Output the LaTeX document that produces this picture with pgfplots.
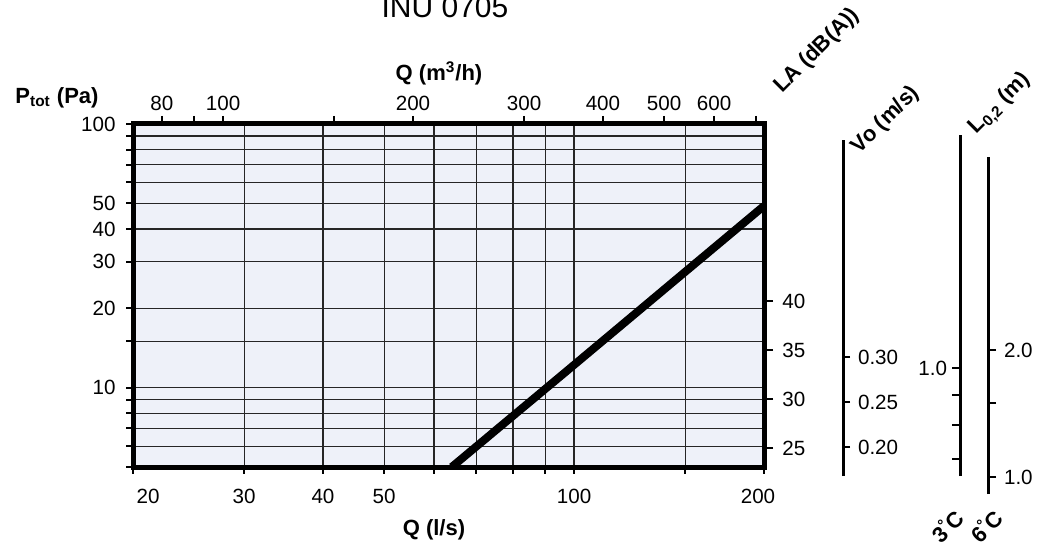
\documentclass[border=0pt]{standalone}
\usepackage{pgfplots}
\pgfplotsset{compat=1.18}
\usepackage{fontspec}
\setmainfont{Liberation Sans}
\definecolor{bgc}{RGB}{238,241,249}
\newcommand{\fs}{\fontsize{10.3bp}{12bp}\selectfont}
\newcommand{\fb}{\fontsize{11bp}{13bp}\selectfont\bfseries}
\begin{document}
\begin{tikzpicture}[font=\fs]
\pgfplotsset{
  common/.style={scale only axis, width=315.5bp, height=171.5bp,
    at={(66.5bp,-233.5bp)}, anchor=south west,
    tick align=outside, major tick length=3.5bp,
    every tick/.style={black, line width=1bp},
    ticklabel style={font=\fs}},
  scaleax/.style={scale only axis, width=10bp, hide x axis,
    axis line style={line width=1.5bp, -},
    tick align=outside, major tick length=4bp,
    every tick/.style={black, line width=1bp},
    ticklabel style={font=\fs}},
}
% main chart
\begin{axis}[common,
  xmode=log, ymode=log, xmin=20, xmax=200, ymin=5, ymax=100,
  axis background/.style={fill=bgc},
  axis line style={line width=2.5bp},
  xtick={20,30,40,50,60,70,80,90,100,150,200},
  xticklabels={,30,40,50,,,,,100,,},
  ytick={5,6,7,8,9,10,15,20,30,40,50,60,70,80,90,100},
  yticklabels={,,,,,10,,20,30,40,50,,,,,100},
  xtick pos=bottom, ytick pos=left,
  grid=major,
  major grid style={black!85, line width=0.6bp},
  xticklabel shift=4bp, yticklabel shift=1.7bp,
  clip mode=individual,
]
\addplot[line width=4bp, black] coordinates {(64,5.0) (100,12.2) (150,27.5) (200,48.9)};
\node[font=\fs] at (axis cs:20,5) [xshift=7.5bp, yshift=-14.5bp] {20};
\node[font=\fs] at (axis cs:200,5) [xshift=-3bp, yshift=-14.5bp] {200};
\end{axis}
% top axis m3/h
\begin{axis}[common,
  xmode=log, ymode=log, xmin=72, xmax=720, ymin=5, ymax=100,
  axis x line*=top, axis y line=none, axis line style={draw=none},
  xtick={80,90,100,150,200,300,400,500,600,700},
  xticklabels={80,,100,,200,300,400,500,600,},
  major tick length=4bp, xticklabel shift=-1bp,
]
\addplot[draw=none] coordinates {(100,10)};
\end{axis}
% LA axis
\begin{axis}[common,
  xmin=0, xmax=1, ymin=23.06, ymax=58.06,
  axis y line*=right, hide x axis, axis line style={draw=none},
  ytick={25,30,35,40}, yticklabels={25,30,35,40},
  major tick length=4.5bp, yticklabel shift=1.2bp,
]
\addplot[draw=none] coordinates {(0.5,30)};
\end{axis}
% Vo scale
\begin{axis}[scaleax, height=168bp, at={(421.5bp,-238bp)}, anchor=south east,
  xmin=0, xmax=1, ymin=0.1678, ymax=0.541,
  axis y line*=right,
  ytick={0.20,0.25,0.30}, yticklabels={0.20,0.25,0.30},
  major tick length=3.5bp, yticklabel shift=0.5bp,
]
\addplot[draw=none] coordinates {(0.5,0.25)};
\end{axis}
% 3 C scale
\begin{axis}[scaleax, height=170.5bp, at={(480bp,-238bp)}, anchor=south west,
  ymode=log, xmin=0, xmax=1, ymin=0.6547, ymax=2.494,
  axis y line*=left,
  ytick={0.7,0.8,0.9,1.0}, yticklabels={,,,1.0},
  major tick length=4bp, yticklabel shift=-1bp,
]
\addplot[draw=none] coordinates {(0.5,1)};
\end{axis}
% 6 C scale
\begin{axis}[scaleax, height=168.5bp, at={(494bp,-247bp)}, anchor=south east,
  ymode=log, xmin=0, xmax=1, ymin=0.9114, ymax=5.73,
  axis y line*=right,
  ytick={1.0,1.5,2.0}, yticklabels={1.0,,2.0},
  major tick length=4bp, yticklabel shift=0.5bp,
]
\addplot[draw=none] coordinates {(0.5,1.5)};
\end{axis}
% texts
\node[font=\fontsize{15bp}{18bp}\selectfont, anchor=base] at (222.5bp,-8.5bp) {INU 0705};
\node[font=\fb] at (219.5bp,-36.5bp) {Q (m\textsuperscript{3}/h)};
\node[font=\fb] at (217bp,-265bp) {Q (l/s)};
\node[font=\fb] at (28.5bp,-49bp) {P\textsubscript{tot} (Pa)};
\node[font=\fb, rotate=45] at (408.5bp,-25.5bp) {LA (dB(A))};
\node[font=\fb, rotate=45] at (443bp,-60bp) {Vo (m/s)};
\node[font=\fb, rotate=45] at (500bp,-52bp) {L\textsubscript{0,2} (m)};
\node[font=\fb, rotate=45] at (473.5bp,-263bp) {3\textsuperscript{\textdegree}C};
\node[font=\fb, rotate=45] at (493bp,-263bp) {6\textsuperscript{\textdegree}C};
\pgfresetboundingbox
\path[use as bounding box] (0,0) rectangle (523bp,-273.5bp);
\end{tikzpicture}
\end{document}
